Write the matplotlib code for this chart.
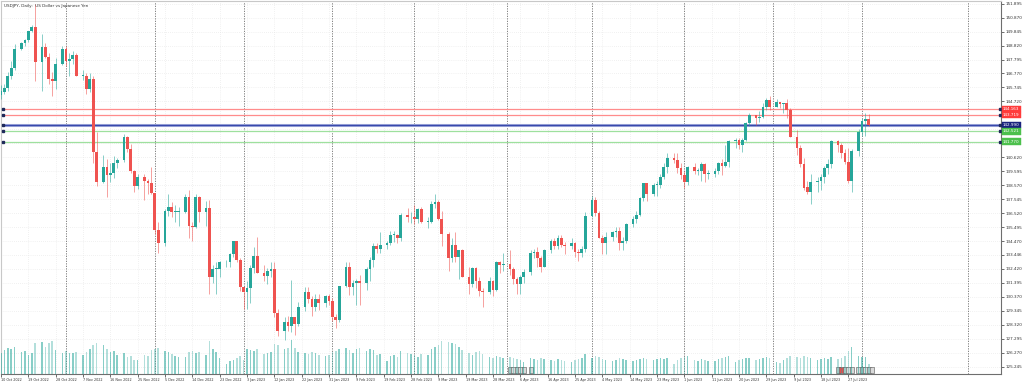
import matplotlib
matplotlib.use('Agg')
import matplotlib.pyplot as plt
import matplotlib.transforms as mtransforms
from matplotlib.patches import Rectangle
import numpy as np
import pandas as pd

# ------------------------------------
#   USDJPY daily bars (Mon-Fri), one row = one week
# ------------------------------------
dates = pd.bdate_range('2022-10-10', '2023-08-03')

opens = [
    145.2, 145.4, 145.7, 146.6, 147.2,
    148.6, 149.0, 149.2, 149.9, 150.2,
    147.6, 148.7, 148.0, 146.4, 146.2,
    147.5, 148.6, 147.7, 147.8, 148.1,
    146.6, 146.6, 145.6, 146.4, 141.0,
    138.8, 139.9, 139.3, 139.5, 140.2,
    140.4, 142.1, 141.2, 139.6, 138.5,
    139.2, 138.9, 138.7, 138.0, 135.3,
    134.3, 136.7, 137.0, 136.6, 136.6,
    136.6, 137.7, 135.6, 135.5, 137.7,
    136.6, 136.9, 131.8, 132.4, 132.4,
    132.9, 132.9, 133.5, 134.5, 133.1,
    131.1, 130.7, 131.0, 132.5, 133.4,
    132.1, 131.9, 132.3, 132.4, 129.2,
    127.9, 128.5, 128.2, 128.9, 128.4,
    129.6, 130.7, 130.2, 129.6, 130.2,
    129.9, 130.4, 130.1, 128.9, 128.7,
    131.2, 132.6, 131.1, 131.4, 131.5,
    131.4, 132.4, 133.1, 134.1, 133.9,
    134.2, 134.3, 134.9, 134.9, 134.7,
    136.4, 136.2, 136.2, 136.1, 136.8,
    135.9, 135.9, 137.2, 137.3, 136.1,
    135.0, 133.2, 134.2, 133.3, 133.8,
    131.8, 131.3, 132.5, 131.5, 130.8,
    130.7, 131.5, 130.9, 132.9, 132.7,
    132.8, 132.4, 131.7, 131.3, 131.8,
    132.2, 133.6, 133.7, 133.2, 132.6,
    133.8, 134.5, 134.1, 134.7, 134.2,
    134.1, 134.3, 133.7, 133.6, 133.9,
    136.3, 137.5, 136.5, 134.7, 134.3,
    134.8, 135.1, 135.2, 134.3, 134.5,
    135.7, 136.1, 136.4, 137.6, 138.7,
    137.9, 138.6, 138.6, 139.2, 139.9,
    140.6, 140.4, 139.8, 139.3, 138.8,
    139.9, 139.6, 139.6, 140.1, 139.4,
    139.4, 139.6, 140.2, 140.0, 140.3,
    141.8, 141.9, 141.5, 141.9, 143.1,
    143.7, 143.5, 143.6, 144.3, 144.8,
    144.3, 144.7, 144.5, 144.6, 144.1,
    142.1, 141.3, 140.1, 138.4, 138.1,
    138.8, 138.9, 139.2, 139.8, 140.1,
    141.8, 141.5, 140.9, 140.3, 138.9,
    141.1, 142.5, 143.3, 143.4,
]
highs = [
    145.9, 146.0, 146.9, 147.7, 148.9,
    149.1, 149.3, 149.9, 150.3, 151.9,
    149.7, 149.0, 148.3, 146.9, 147.9,
    148.8, 148.8, 148.3, 148.4, 148.3,
    147.0, 146.8, 146.8, 146.6, 142.5,
    140.8, 140.5, 140.2, 140.7, 140.6,
    142.3, 142.2, 141.6, 139.7, 139.4,
    139.4, 139.0, 139.9, 138.0, 135.9,
    136.8, 137.9, 137.3, 137.1, 137.0,
    137.9, 138.2, 135.9, 137.9, 137.8,
    137.4, 137.5, 132.7, 132.9, 133.0,
    133.1, 133.6, 134.5, 134.5, 133.2,
    131.1, 131.5, 132.7, 134.0, 134.8,
    132.7, 132.5, 132.9, 132.9, 129.5,
    128.9, 129.0, 131.6, 128.9, 130.0,
    131.1, 131.1, 130.4, 130.6, 130.6,
    130.5, 130.6, 130.3, 129.1, 131.2,
    132.9, 132.9, 131.6, 131.7, 132.0,
    132.6, 133.3, 134.3, 134.3, 135.1,
    134.5, 135.2, 135.2, 135.0, 136.5,
    136.9, 136.6, 137.1, 136.9, 137.0,
    136.2, 137.4, 137.9, 137.5, 136.7,
    135.1, 134.7, 135.1, 133.8, 133.9,
    132.6, 132.6, 132.6, 131.8, 131.0,
    131.8, 131.6, 133.0, 133.0, 133.6,
    133.8, 132.6, 131.8, 132.0, 132.4,
    133.8, 133.9, 134.0, 133.4, 133.9,
    134.6, 134.7, 134.9, 134.9, 134.4,
    134.7, 134.4, 133.9, 134.1, 136.6,
    137.8, 137.7, 136.7, 134.9, 135.1,
    135.2, 135.5, 135.5, 134.8, 135.8,
    136.3, 136.7, 137.7, 138.7, 138.7,
    138.7, 138.9, 139.4, 140.2, 140.9,
    140.9, 140.9, 140.2, 139.6, 140.0,
    140.2, 139.8, 140.3, 140.2, 139.7,
    139.8, 140.3, 140.5, 141.5, 141.9,
    142.0, 142.0, 142.0, 143.2, 143.9,
    143.7, 144.0, 144.6, 145.0, 145.1,
    144.9, 144.7, 144.6, 144.9, 144.2,
    142.6, 141.5, 140.6, 138.9, 139.4,
    139.2, 139.4, 140.0, 140.5, 141.9,
    141.9, 141.7, 141.2, 141.3, 141.2,
    142.7, 143.5, 143.9, 143.8,
]
lows = [
    144.9, 145.3, 145.5, 146.4, 147.0,
    148.5, 148.8, 149.1, 149.8, 146.2,
    145.5, 147.9, 146.0, 145.1, 145.6,
    147.4, 147.3, 146.6, 147.5, 146.6,
    146.3, 145.3, 145.4, 140.2, 138.5,
    138.7, 137.7, 138.8, 139.1, 139.8,
    140.3, 141.0, 139.5, 138.1, 138.3,
    137.5, 137.9, 137.9, 135.0, 133.6,
    134.1, 136.3, 136.2, 135.9, 135.6,
    136.5, 134.7, 134.5, 135.4, 135.9,
    135.6, 130.6, 131.4, 130.6, 131.8,
    132.6, 132.6, 133.3, 132.9, 130.8,
    129.5, 129.5, 129.9, 132.1, 132.1,
    131.5, 131.3, 131.8, 128.9, 127.5,
    127.2, 127.9, 127.8, 127.6, 128.2,
    129.3, 129.9, 129.0, 129.3, 129.4,
    129.6, 129.8, 128.6, 128.1, 128.5,
    131.1, 130.5, 130.5, 129.8, 129.8,
    130.9, 131.5, 132.6, 133.6, 133.6,
    133.9, 134.2, 134.4, 134.3, 134.5,
    135.9, 135.8, 135.7, 135.8, 135.8,
    135.4, 135.8, 136.9, 136.0, 134.1,
    132.3, 132.9, 132.9, 131.7, 131.8,
    130.6, 131.1, 131.0, 130.4, 129.6,
    130.6, 130.4, 130.8, 132.1, 132.3,
    132.0, 131.3, 130.6, 130.6, 131.4,
    132.0, 133.2, 132.6, 132.2, 132.6,
    133.6, 133.9, 133.9, 134.0, 133.5,
    133.9, 133.3, 133.0, 133.3, 133.7,
    136.2, 136.3, 134.7, 133.5, 133.5,
    134.5, 134.8, 133.8, 133.8, 134.3,
    135.5, 135.8, 136.3, 137.4, 137.4,
    137.8, 137.8, 138.4, 139.0, 139.5,
    140.2, 139.5, 139.0, 138.4, 138.6,
    139.4, 139.3, 138.9, 138.8, 139.0,
    139.2, 139.4, 139.3, 139.9, 139.9,
    141.3, 141.2, 141.0, 141.8, 142.9,
    143.0, 143.2, 143.5, 144.1, 144.1,
    144.3, 144.2, 143.9, 143.5, 142.1,
    140.8, 139.9, 138.2, 137.9, 137.2,
    138.1, 138.2, 138.7, 139.4, 139.8,
    141.0, 140.6, 140.1, 138.7, 138.1,
    140.7, 142.2, 142.2, 142.9,
]
closes = [
    145.5, 145.7, 146.6, 147.2, 148.6,
    149.0, 149.2, 149.9, 150.2, 147.6,
    148.7, 148.0, 146.4, 146.2, 147.5,
    148.6, 147.7, 147.8, 148.1, 146.6,
    146.6, 145.6, 146.4, 141.0, 138.8,
    139.9, 139.3, 139.5, 140.2, 140.4,
    142.1, 141.2, 139.6, 138.5, 139.2,
    138.9, 138.7, 138.0, 135.3, 134.3,
    136.7, 137.0, 136.6, 136.6, 136.6,
    137.7, 135.6, 135.5, 137.7, 136.6,
    136.9, 131.8, 132.4, 132.4, 132.9,
    132.9, 133.5, 134.5, 133.1, 131.1,
    130.7, 131.0, 132.5, 133.4, 132.1,
    131.9, 132.3, 132.4, 129.2, 127.9,
    128.5, 128.2, 128.9, 128.4, 129.6,
    130.7, 130.2, 129.6, 130.2, 129.9,
    130.4, 130.1, 128.9, 128.7, 131.2,
    132.6, 131.1, 131.4, 131.5, 131.4,
    132.4, 133.1, 134.1, 133.9, 134.2,
    134.3, 134.9, 134.9, 134.7, 136.4,
    136.2, 136.2, 136.1, 136.8, 135.9,
    135.9, 137.2, 137.3, 136.1, 135.0,
    133.2, 134.2, 133.3, 133.8, 131.8,
    131.3, 132.5, 131.5, 130.8, 130.7,
    131.5, 130.9, 132.9, 132.7, 132.8,
    132.4, 131.7, 131.3, 131.8, 132.2,
    133.6, 133.7, 133.2, 132.6, 133.8,
    134.5, 134.1, 134.7, 134.2, 134.1,
    134.3, 133.7, 133.6, 133.9, 136.3,
    137.5, 136.5, 134.7, 134.3, 134.8,
    135.1, 135.2, 134.3, 134.5, 135.7,
    136.1, 136.4, 137.6, 138.7, 137.9,
    138.6, 138.6, 139.2, 139.9, 140.6,
    140.4, 139.8, 139.3, 138.8, 139.9,
    139.6, 139.6, 140.1, 139.4, 139.4,
    139.6, 140.2, 140.0, 140.3, 141.8,
    141.9, 141.5, 141.9, 143.1, 143.7,
    143.5, 143.6, 144.3, 144.8, 144.3,
    144.7, 144.5, 144.6, 144.1, 142.1,
    141.3, 140.1, 138.4, 138.1, 138.8,
    138.9, 139.2, 139.8, 140.1, 141.8,
    141.5, 140.9, 140.3, 138.9, 141.1,
    142.5, 143.3, 143.4, 143.0,
]
# tick volume, thousands
volumes = [
    126, 144, 156, 150, 165,
    132, 138, 114, 126, 186,
    192, 162, 186, 198, 144,
    126, 138, 126, 126, 132,
    114, 132, 150, 174, 186,
    174, 150, 132, 138, 114,
    126, 102, 108, 84, 84,
    114, 108, 144, 150, 156,
    138, 132, 120, 108, 102,
    102, 132, 138, 126, 132,
    114, 198, 150, 132, 96,
    60, 78, 84, 96, 108,
    84, 150, 144, 138, 150,
    120, 126, 132, 180, 174,
    150, 156, 204, 156, 132,
    126, 120, 132, 126, 114,
    108, 114, 132, 138, 150,
    156, 144, 126, 150, 156,
    138, 150, 144, 114, 120,
    78, 108, 114, 102, 138,
    126, 120, 114, 102, 120,
    114, 150, 162, 174, 198,
    192, 186, 180, 162, 144,
    126, 114, 132, 138, 120,
    102, 96, 108, 102, 96,
    102, 96, 90, 84, 72,
    96, 90, 84, 96, 90,
    84, 78, 90, 84, 78,
    72, 84, 90, 96, 120,
    96, 108, 102, 90, 84,
    78, 84, 96, 90, 84,
    78, 84, 90, 96, 90,
    84, 90, 96, 90, 96,
    60, 84, 96, 102, 108,
    84, 78, 90, 84, 78,
    78, 90, 96, 102, 108,
    72, 84, 90, 96, 96,
    84, 90, 96, 102, 96,
    72, 66, 84, 96, 108,
    102, 96, 108, 102, 96,
    84, 90, 96, 90, 102,
    90, 96, 108, 138, 162,
    108, 102, 102, 60,
]

price_ticks = [125.245, 126.270, 127.295, 128.320, 129.345, 130.370, 131.395,
               132.420, 133.446, 134.470, 135.495, 136.520, 137.545, 138.570,
               139.595, 140.620, 141.645, 142.670, 143.695, 144.720, 145.745,
               146.770, 147.795, 148.820, 149.845, 150.870, 151.895]

date_labels = ['10 Oct 2022', '19 Oct 2022', '28 Oct 2022', '7 Nov 2022',
               '16 Nov 2022', '25 Nov 2022', '5 Dec 2022', '14 Dec 2022',
               '23 Dec 2022', '3 Jan 2023', '12 Jan 2023', '22 Jan 2023',
               '31 Jan 2023', '9 Feb 2023', '19 Feb 2023', '28 Feb 2023',
               '9 Mar 2023', '19 Mar 2023', '28 Mar 2023', '6 Apr 2023',
               '16 Apr 2023', '25 Apr 2023', '4 May 2023', '14 May 2023',
               '23 May 2023', '1 Jun 2023', '11 Jun 2023', '20 Jun 2023',
               '29 Jun 2023', '9 Jul 2023', '18 Jul 2023', '27 Jul 2023']

# horizontal levels drawn on the chart
level_values = [144.163, 143.719, 142.990, 142.521, 141.770]
level_colors = ['#ff8c8c', '#ff8c8c', '#3949ab', '#9ee09e', '#9ee09e']
level_boxes = ['#ff3b3b', '#ff3b3b', '#1a237e', '#4cc04c', '#4cc04c']

separator_months = ['2022-11-01', '2022-12-01', '2023-01-01', '2023-02-01',
                    '2023-03-01', '2023-04-01', '2023-05-01', '2023-06-01',
                    '2023-07-01', '2023-08-01', '2023-09-01']

# economic calendar markers along the time axis
event_days = ['2023-04-03', '2023-04-04', '2023-04-05', '2023-04-06',
              '2023-04-07', '2023-04-10',
              '2023-07-24', '2023-07-25', '2023-07-26', '2023-07-27',
              '2023-07-28', '2023-07-31', '2023-08-01', '2023-08-02',
              '2023-08-03', '2023-08-04']
event_high = ['2023-07-25']

UP = '#26a69a'
DOWN = '#ef5350'

# ------------------------------------
#   bar slots: broker has short Sunday bars, no bar on Saturday / 1 Jan
# ------------------------------------
cal = pd.date_range(dates[0], dates[-1], freq='D')
cal = cal[(cal.dayofweek != 5) & (cal != pd.Timestamp('2023-01-01'))]
slot = pd.Series(np.arange(len(cal)), index=cal)


def slot_of(day):
    day = pd.Timestamp(day)
    if day > cal[-1]:
        # future area: one slot per calendar day
        return slot.iloc[-1] + (day - cal[-1]).days
    return slot[cal[cal >= day][0]]


x = slot[dates].to_numpy()
o = np.array(opens)
h = np.array(highs)
l = np.array(lows)
c = np.array(closes)
up = c >= o

fig = plt.figure(figsize=(10.24, 3.84), dpi=100)
ax = fig.add_axes([1 / 1024, 10 / 384, 1000 / 1024, 373 / 384])

'''volumes at the foot of the chart'''
axv = ax.twinx()
vol_alpha = np.where(up, 0.55, 0.35)
for xi, vi, ai in zip(x, volumes, vol_alpha):
    axv.bar(xi, vi, width=0.45, color=UP, alpha=ai, linewidth=0)
axv.set_ylim(0, max(volumes) * 11)
axv.set_axis_off()

'''candles'''
col = np.where(up, UP, DOWN)
ax.vlines(x, l, h, colors=col, linewidth=0.7, alpha=0.55, zorder=3)
body = np.maximum(np.abs(c - o), 0.06)
ax.bar(x, body, bottom=np.minimum(o, c), width=0.8, color=col,
       linewidth=0, zorder=4)

'''period separators'''
for m in separator_months:
    ax.axvline(slot_of(m), color='#6e6e6e', linestyle=(0, (1.5, 1.5)),
               linewidth=0.6, zorder=1)

'''levels'''
trans = mtransforms.blended_transform_factory(ax.transAxes, ax.transData)
for v, lc, bc in zip(level_values, level_colors, level_boxes):
    ax.axhline(v, color=lc, linewidth=0.9, zorder=2)
    ax.plot([0.002, 0.999], [v, v], 's', ms=1.6, color='#1f2a5a',
            transform=trans, clip_on=False, zorder=6)
    ax.text(1.002, v, '%.3f' % v, transform=trans, fontsize=3, color='white',
            va='center', ha='left', clip_on=False, zorder=7,
            bbox=dict(boxstyle='square,pad=0.3', fc=bc, ec=bc, lw=0.3))
ax.axhline(level_values[2], color='#9fa8da', linewidth=2.2, zorder=1.9)

'''calendar markers'''
etrans = mtransforms.blended_transform_factory(ax.transData, ax.transAxes)
for d in event_days:
    fc = '#e05050' if d in event_high else '#d9d9d9'
    ax.add_patch(Rectangle((slot_of(d) - 0.6, 0.004), 1.25, 0.014,
                           transform=etrans, fc=fc, ec='#555555', lw=0.4,
                           zorder=6, clip_on=False))

ax.text(0.003, 0.992, 'USDJPY, Daily:  US Dollar vs Japanese Yen',
        transform=ax.transAxes, fontsize=3, va='top', color='#333333')

'''axes'''
ax.set_xlim(0.3, 292.7)
ax.set_ylim(124.71, 152.09)
ax.yaxis.tick_right()
ax.set_yticks(price_ticks)
# labels under the level boxes are hidden
ax.set_yticklabels(['' if min(abs(t - v) for v in level_values) < 0.55
                    else '%.3f' % t for t in price_ticks])
lab_pos = [slot_of(pd.to_datetime(d, format='%d %b %Y')) for d in date_labels]
ax.set_xticks(lab_pos)
ax.set_xticklabels(date_labels, ha='left')
ax.tick_params(axis='y', labelsize=3, length=2, width=0.5, pad=1,
               colors='#333333')
ax.tick_params(axis='x', labelsize=2.4, length=2, width=0.5, pad=1,
               colors='#333333')
ax.grid(color='#e4e4e4', linestyle=(0, (1, 2)), linewidth=0.5)
ax.set_axisbelow(True)
for side in ['top', 'left']:
    ax.spines[side].set_color('#c8c8c8')
for side in ['right', 'bottom']:
    ax.spines[side].set_color('#6e6e6e')
for s in ax.spines.values():
    s.set_linewidth(0.8)

fig.savefig('out.png', dpi=100)
